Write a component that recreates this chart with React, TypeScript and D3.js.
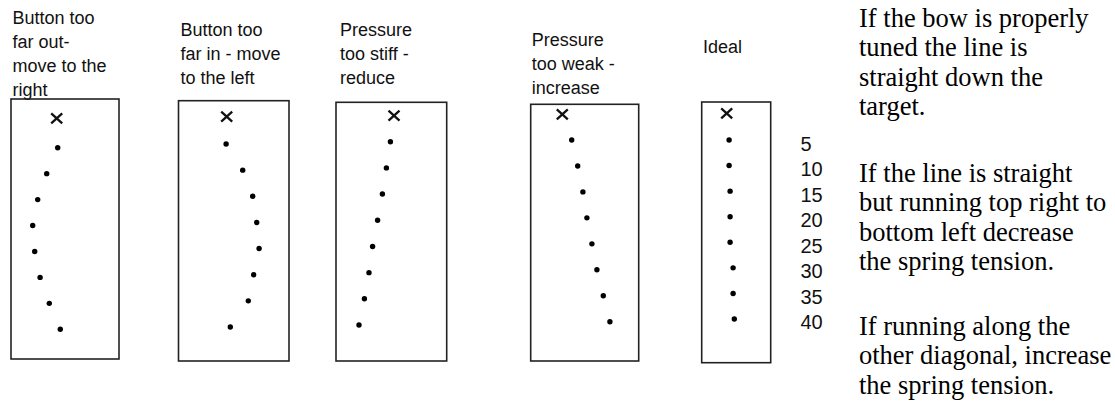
import React from 'react';
import * as d3 from 'd3';

// distance from the archer (categories, top to bottom)
const distances = [5, 10, 15, 20, 25, 30, 35, 40];
const distanceLabels = ['5', '10', '15', '20', '25', '30', '35', '40'];

// horizontal deviation of each impact from the aiming mark (arbitrary units)
const buttonOutDev = [0.5, -5, -9.5, -12, -11, -8.3, -3.7, 1.8];
const buttonInDev = [-0.3, 8, 13, 15, 16.2, 13.5, 10.8, 1.8];
const stiffDev = [-1.8, -3.8, -5.8, -8.2, -10.7, -12.5, -14.8, -17.5];
const weakDev = [4.7, 7.7, 10.3, 12.3, 14.8, 17.3, 20.5, 23.8];
const idealDev = [1.2, 1.2, 1.7, 1.7, 1.7, 3.2, 3.2, 3.8];

const titleButtonOut = ['Button too', 'far out-', 'move to the', 'right'];
const titleButtonIn = ['Button too', 'far in - move', 'to the left'];
const titleStiff = ['Pressure', 'too stiff -', 'reduce'];
const titleWeak = ['Pressure', 'too weak -', 'increase'];
const titleIdeal = ['Ideal'];

const note1 = ['If the bow is properly', 'tuned the line is', 'straight down the', 'target.'];
const note2 = ['If the line is straight', 'but running top right to', 'bottom left decrease', 'the spring tension.'];
const note3 = ['If running along the', 'other diagonal, increase', 'the spring tension.'];

const panels = [
  { dev: buttonOutDev, title: titleButtonOut, box: [11, 99, 108, 260], aim: [56.7, 118.3], yr: [147.7, 329.3], tx: 12.5, ty: 23.5 },
  { dev: buttonInDev, title: titleButtonIn, box: [178.5, 100.7, 110.5, 260.3], aim: [226.7, 116.7], yr: [144, 327], tx: 180.5, ty: 36 },
  { dev: stiffDev, title: titleStiff, box: [336, 102.3, 110.7, 258.7], aim: [394, 115.7], yr: [141.7, 325], tx: 340, ty: 36 },
  { dev: weakDev, title: titleWeak, box: [530.7, 104.3, 108, 256.7], aim: [562.3, 114.3], yr: [140, 321.7], tx: 531.7, ty: 46 },
  { dev: idealDev, title: titleIdeal, box: [701.7, 102, 69, 260.7], aim: [726.7, 113.3], yr: [140, 319], tx: 703, ty: 53.3 },
];

const sans = '"Liberation Sans", Arial, sans-serif';
const serif = '"Liberation Serif", "Times New Roman", serif';

function Panel({ p }: { p: any }) {
  const x = d3.scaleLinear().domain([-1, 1]).range([p.aim[0] - 2, p.aim[0] + 2]);
  const y = d3.scaleLinear().domain([5, 40]).range(p.yr);
  const [ax, ay] = p.aim;
  return (
    <g>
      {p.title.map((t: string, i: number) => (
        <text key={i} x={p.tx} y={p.ty + i * 24} fontFamily={sans} fontSize={18} fill="#111">{t}</text>
      ))}
      <rect x={p.box[0]} y={p.box[1]} width={p.box[2]} height={p.box[3]} fill="none" stroke="#222" strokeWidth={1.6} />
      <path d={`M${ax - 5.5},${ay - 5} L${ax + 5.5},${ay + 5} M${ax - 5.5},${ay + 5} L${ax + 5.5},${ay - 5}`} stroke="#111" strokeWidth={2.3} fill="none" />
      {distances.map((d, i) => (
        <circle key={d} cx={x(p.dev[i])} cy={y(d)} r={2.7} fill="#000" />
      ))}
    </g>
  );
}

export default function App() {
  const ly = d3.scaleLinear().domain([5, 40]).range([150.5, 329]);
  const notes = [
    { lines: note1, y0: 27 },
    { lines: note2, y0: 182 },
    { lines: note3, y0: 335 },
  ];
  return (
    <div style={{ position: 'absolute', left: 0, top: 0 }}>
      <svg width={1115} height={402} style={{ display: 'block', background: '#fff' }}>
        {panels.map((p, i) => <Panel key={i} p={p} />)}
        {distances.map((d, i) => (
          <text key={d} x={800.5} y={ly(d)} fontFamily={sans} fontSize={20} fill="#111">{distanceLabels[i]}</text>
        ))}
        {notes.map((n, j) => n.lines.map((t, i) => (
          <text key={`${j}-${i}`} x={859} y={n.y0 + i * 29.3} fontFamily={serif} fontSize={26.5} fill="#000">{t}</text>
        )))}
      </svg>
    </div>
  );
}
